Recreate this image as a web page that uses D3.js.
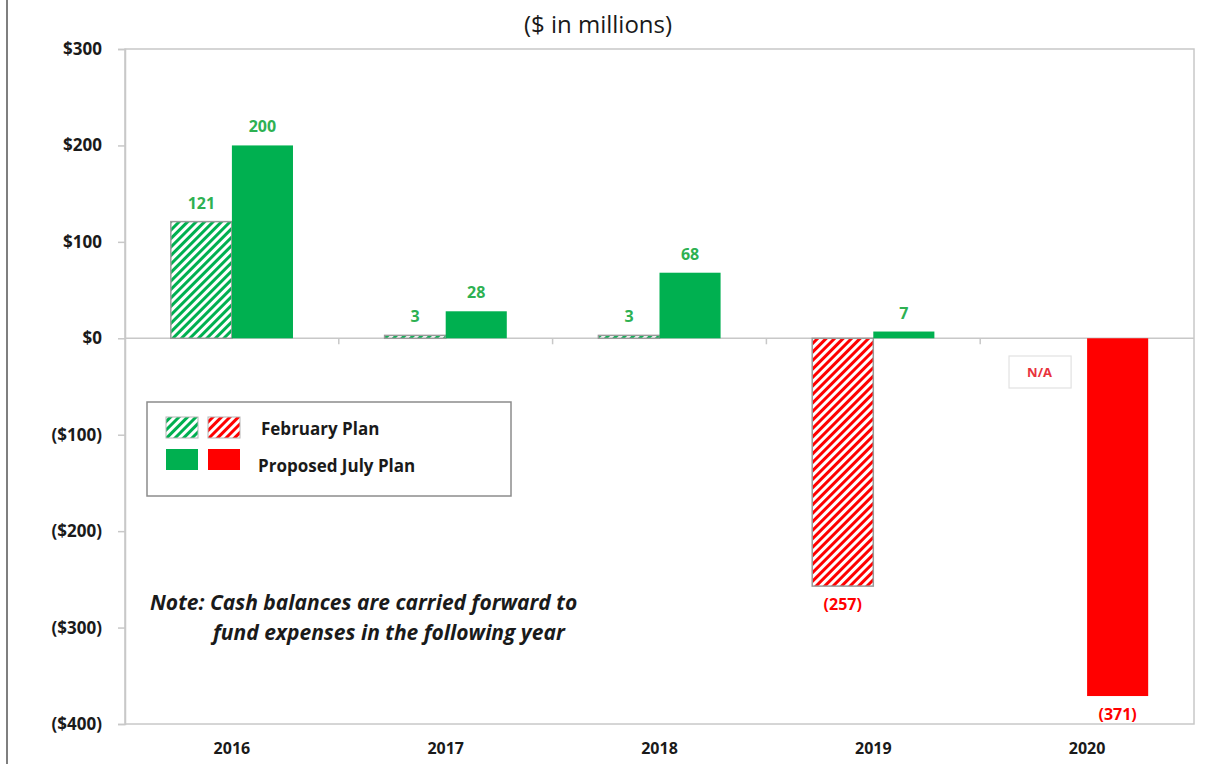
<!DOCTYPE html>
<html>
<head>
<meta charset="utf-8">
<script src="https://cdn.jsdelivr.net/npm/d3@7"></script>
<style>
  body { margin: 0; background: #fff; }
  svg { display: block; font-family: "Open Sans", Lato, sans-serif; }
</style>
</head>
<body>
<div id="chart"></div>
<script>
// data
const years = ["2016", "2017", "2018", "2019", "2020"]
const februaryPlan = [121, 3, 3, -257, null]
const julyPlan = [200, 28, 68, 7, -371]
const yTicks = [300, 200, 100, 0, -100, -200, -300, -400]

const width = 1226, height = 764
const margin = {left: 125, right: 32, top: 49, bottom: 40}

const green = "#00b050", red = "#ff0000", labelGreen = "#2eb152"

const svg = d3.select("#chart").append("svg")
    .attr("width", width)
    .attr("height", height)

// hatch patterns
const defs = svg.append("defs")
function hatch(id, color) {
    const p = defs.append("pattern")
        .attr("id", id)
        .attr("patternUnits", "userSpaceOnUse")
        .attr("width", 6).attr("height", 6)
        .attr("patternTransform", "rotate(45)")
    p.append("rect").attr("width", 6).attr("height", 6).attr("fill", "#fff")
    p.append("rect").attr("width", 3).attr("height", 6).attr("fill", color)
}
hatch("hatchGreen", green)
hatch("hatchRed", red)

// outer frame line on the left
svg.append("line")
    .attr("x1", 7).attr("x2", 7).attr("y1", 0).attr("y2", height)
    .attr("stroke", "#7f7f7f").attr("stroke-width", 2)

const x = d3.scaleBand()
    .domain(years)
    .range([margin.left, width - margin.right])

const x1 = d3.scaleBand()
    .domain(["feb", "jul"])
    .range([0, x.bandwidth()])
    .paddingOuter(0.75)

const y = d3.scaleLinear()
    .domain([-400, 300])
    .range([height - margin.bottom, margin.top])

const fmt = v => v < 0 ? "($" + Math.abs(v) + ")" : "$" + v
const fmtLabel = v => v < 0 ? "(" + Math.abs(v) + ")" : "" + v

// plot border
svg.append("rect")
    .attr("x", margin.left).attr("y", y(300))
    .attr("width", x.range()[1] - margin.left)
    .attr("height", y(-400) - y(300))
    .attr("fill", "none").attr("stroke", "#c8c8c8").attr("stroke-width", 1.5)

// y axis
const yAxis = svg.append("g")
    .attr("transform", "translate(" + margin.left + ",0)")
    .call(d3.axisLeft(y).tickValues(yTicks).tickFormat(fmt).tickSize(7).tickPadding(16))
yAxis.select(".domain").attr("stroke", "#c8c8c8").attr("stroke-width", 1.5)
yAxis.selectAll(".tick line").attr("stroke", "#c8c8c8").attr("stroke-width", 1.5)
yAxis.selectAll(".tick text")
    .attr("font-size", 17).attr("font-weight", "bold").attr("fill", "#1a1a1a")
    .attr("font-family", "'Open Sans', sans-serif")

// zero line with category ticks
svg.append("line")
    .attr("x1", margin.left).attr("x2", x.range()[1])
    .attr("y1", y(0)).attr("y2", y(0))
    .attr("stroke", "#c8c8c8").attr("stroke-width", 1.5)
svg.append("g").selectAll("line")
    .data(years.slice(1))
    .join("line")
    .attr("x1", d => x(d)).attr("x2", d => x(d))
    .attr("y1", y(0)).attr("y2", y(0) + 6)
    .attr("stroke", "#c8c8c8").attr("stroke-width", 1.5)

// x labels
svg.append("g").selectAll("text")
    .data(years)
    .join("text")
    .attr("x", d => x(d) + x.bandwidth() / 2)
    .attr("y", 754)
    .attr("text-anchor", "middle")
    .attr("font-size", 16).attr("font-weight", "bold").attr("fill", "#1a1a1a")
    .text(d => d)

// bars
const rows = []
years.forEach((yr, i) => {
    rows.push({year: yr, key: "feb", value: februaryPlan[i]})
    rows.push({year: yr, key: "jul", value: julyPlan[i]})
})
const bars = rows.filter(d => d.value !== null)

svg.append("g").selectAll("rect")
    .data(bars)
    .join("rect")
    .attr("x", d => x(d.year) + x1(d.key))
    .attr("width", x1.bandwidth())
    .attr("y", d => y(Math.max(0, d.value)))
    .attr("height", d => Math.abs(y(d.value) - y(0)))
    .attr("fill", d => {
        if (d.key === "feb") return d.value < 0 ? "url(#hatchRed)" : "url(#hatchGreen)"
        return d.value < 0 ? red : green
    })
    .attr("stroke", d => d.key === "feb" ? "#9a9a9a" : "none")
    .attr("stroke-width", 1.5)

// value labels
svg.append("g").selectAll("text")
    .data(bars)
    .join("text")
    .attr("x", d => x(d.year) + x1(d.key) + x1.bandwidth() / 2)
    .attr("y", d => d.value < 0 ? y(d.value) + 24 : y(d.value) - 13)
    .attr("text-anchor", "middle")
    .attr("font-size", 16).attr("font-weight", "bold")
    .attr("fill", d => d.value < 0 ? red : labelGreen)
    .text(d => fmtLabel(d.value))

// N/A box for 2020 February plan
const naX = x("2020") + x1("feb") - 17
svg.append("rect")
    .attr("x", naX).attr("y", 356)
    .attr("width", x1.bandwidth() + 1).attr("height", 32)
    .attr("fill", "#fff").attr("stroke", "#e2e2e2").attr("stroke-width", 1.2)
svg.append("text")
    .attr("x", naX + x1.bandwidth() / 2).attr("y", 377)
    .attr("text-anchor", "middle")
    .attr("font-size", 13).attr("font-weight", "bold").attr("fill", "#e8323c")
    .text("N/A")

// title
svg.append("text")
    .attr("x", 598).attr("y", 33)
    .attr("text-anchor", "middle")
    .attr("font-size", 24).attr("fill", "#1a1a1a")
    .text("($ in millions)")

// legend
const legend = svg.append("g")
legend.append("rect")
    .attr("x", 147).attr("y", 402).attr("width", 364).attr("height", 94)
    .attr("fill", "#fff").attr("stroke", "#8c8c8c").attr("stroke-width", 1.5)
const swatches = [
    {x: 166, y: 417, fill: "url(#hatchGreen)", stroke: "#b5b5b5"},
    {x: 208, y: 417, fill: "url(#hatchRed)", stroke: "#b5b5b5"},
    {x: 166, y: 449, fill: green, stroke: "none"},
    {x: 208, y: 449, fill: red, stroke: "none"}
]
legend.selectAll("rect.sw")
    .data(swatches)
    .join("rect")
    .attr("class", "sw")
    .attr("x", d => d.x).attr("y", d => d.y)
    .attr("width", 32).attr("height", 21)
    .attr("fill", d => d.fill).attr("stroke", d => d.stroke)
legend.append("text")
    .attr("x", 261).attr("y", 435)
    .attr("font-size", 17).attr("font-weight", "bold").attr("fill", "#1a1a1a")
    .text("February Plan")
legend.append("text")
    .attr("x", 258).attr("y", 472)
    .attr("font-size", 17).attr("font-weight", "bold").attr("fill", "#1a1a1a")
    .text("Proposed July Plan")

// note
svg.append("text")
    .attr("x", 150).attr("y", 610)
    .attr("font-size", 21).attr("font-weight", "bold").attr("font-style", "italic").attr("fill", "#1a1a1a")
    .text("Note: Cash balances are carried forward to")
svg.append("text")
    .attr("x", 213).attr("y", 640)
    .attr("font-size", 21).attr("font-weight", "bold").attr("font-style", "italic").attr("fill", "#1a1a1a")
    .text("fund expenses in the following year")
</script>
</body>
</html>
